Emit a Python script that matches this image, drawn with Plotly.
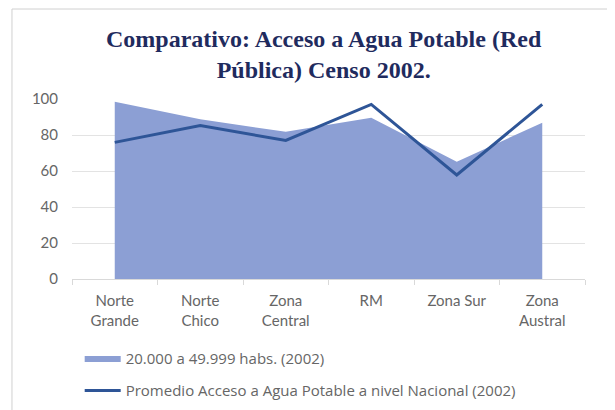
import plotly.graph_objects as go

categories = ["Norte<br>Grande", "Norte<br>Chico", "Zona<br>Central", "RM", "Zona Sur", "Zona<br>Austral"]
area_values = [98.5, 88.7, 81.8, 89.6, 65.2, 86.8]
line_values = [75.9, 85.2, 77.0, 97.0, 57.8, 97.0]
area_name = "20.000 a 49.999 habs. (2002)"
line_name = "Promedio Acceso a Agua Potable a nivel Nacional (2002)"
y_ticks = [0, 20, 40, 60, 80, 100]

fig = go.Figure()
fig.add_trace(go.Scatter(
    x=categories, y=area_values, name=area_name, mode="lines", legendgroup="a",
    fill="tozeroy", fillcolor="#8C9FD4", line=dict(width=0, color="#8C9FD4"),
))
fig.add_trace(go.Scatter(
    x=categories, y=line_values, name=line_name, mode="lines", legendgroup="b",
    line=dict(width=3, color="#2E5597"),
))

fig.update_layout(
    width=607, height=402,
    margin=dict(l=64, r=30, t=91, b=131),
    paper_bgcolor="white", plot_bgcolor="white",
    title=dict(
        text="<b>Comparativo: Acceso a Agua Potable (Red<br>Pública) Censo 2002.</b>",
        x=0.52, xanchor="center", y=0.903, yanchor="middle",
        font=dict(family="Liberation Serif", size=24, color="#1F2B5E"),
    ),
    font=dict(family="Lato", size=15, color="#666666"),
    xaxis=dict(
        type="category", range=[-0.5, 5.5], tickson="boundaries",
        ticks="outside", ticklen=5, tickcolor="#D9D9D9",
        showline=True, linecolor="#D9D9D9", showgrid=False,
        tickfont=dict(size=15, color="#666666"), ticklabelstandoff=8,
    ),
    yaxis=dict(
        range=[0, 100], tickvals=y_ticks, showgrid=True, gridcolor="#E3E3E3",
        zeroline=False, ticks="", tickfont=dict(size=15, color="#666666"),
        ticklabelstandoff=13,
    ),
    legend=dict(
        x=0.015, xanchor="left", y=0.17, yanchor="top", yref="container",
        orientation="v", font=dict(family="Open Sans", size=15, color="#666666"),
        tracegroupgap=10, itemwidth=36,
    ),
    shapes=[dict(type="rect", xref="paper", yref="paper",
                 x0=-0.117, x1=1.1, y0=-0.75, y1=1.5,
                 line=dict(color="#D0D0D0", width=1))],
)

fig.write_html("out.html")
